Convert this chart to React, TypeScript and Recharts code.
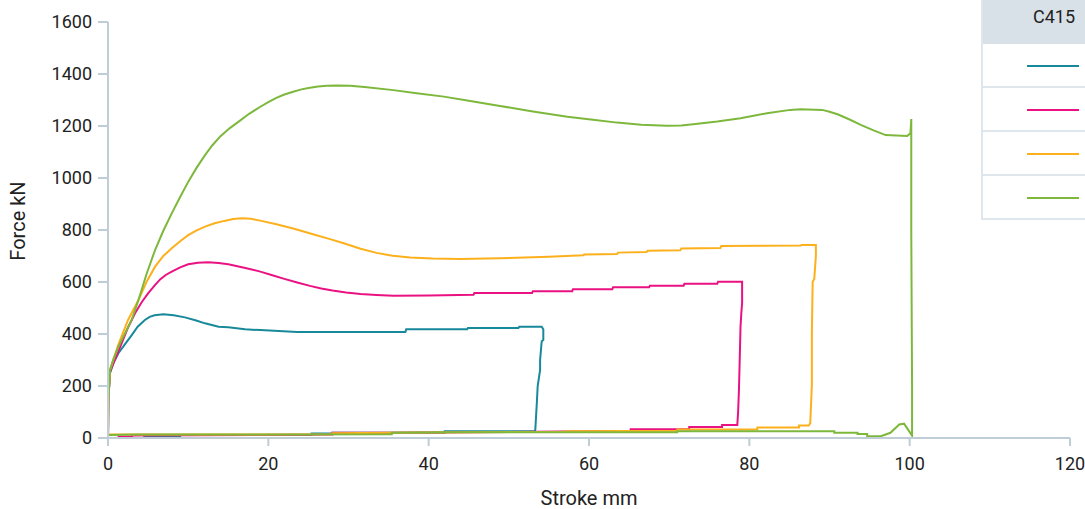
import { LineChart, Line, XAxis, YAxis } from "recharts";

// stroke (mm) vs force (kN)
const tealCurve: [number, number][] = [
  [0, 0], [0.05, 150], [0.25, 249], [0.7, 290], [1.3, 326], [2.1, 360], [2.96, 396], [3.7, 428],
  [4.6, 454], [5.2, 466], [5.8, 472], [6.9, 476], [8.2, 472], [9.6, 464], [11, 452], [12.1, 441],
  [13.8, 428], [15, 426], [17.1, 418], [19, 415], [23.6, 408], [37.1, 408], [37.2, 418],
  [44.8, 418], [44.9, 423], [51.2, 423], [51.3, 428], [54.1, 428], [54.3, 418], [54.3, 377],
  [54.1, 372], [53.9, 300], [53.9, 262], [53.6, 200], [53.5, 140], [53.3, 31], [53.2, 26],
  [42, 26], [42, 20], [28, 20], [28, 17], [25.4, 17], [25.4, 12], [9, 12], [9, 6], [4.4, 6],
];

const pinkCurve: [number, number][] = [
  [0, 0], [0.05, 150], [0.25, 255], [1.7, 364], [2.5, 425], [3.37, 480], [4.2, 522], [5, 556],
  [5.8, 586], [6.5, 610], [7.2, 627], [7.95, 640], [9, 656], [10, 668], [11.2, 674], [12.5, 676],
  [13.8, 673], [15, 668], [17, 655], [19, 640], [20.5, 626], [22, 612], [23.6, 598], [25.2, 585],
  [26.6, 575], [28, 567], [29.7, 560], [31.5, 554], [33.5, 550], [35.6, 547], [40, 548],
  [45.6, 551], [45.7, 558], [52.9, 558], [53, 564], [57.9, 564], [58, 572], [62.9, 572],
  [63, 580], [67.5, 580], [67.6, 586], [71.8, 586], [71.9, 593], [76, 593], [76.1, 601],
  [79.1, 601], [79.1, 520], [79, 480], [78.9, 428], [78.8, 300], [78.7, 180], [78.6, 100],
  [78.5, 50], [76.6, 50], [76.6, 42], [72.5, 42], [72.5, 34], [65.2, 34], [65.2, 27],
  [56.5, 25], [53.3, 24], [35.3, 20], [28, 20], [28, 13], [3, 10], [3, 6], [1.2, 6],
];

const orangeCurve: [number, number][] = [
  [0, 0], [0.05, 150], [0.25, 262], [1.3, 360], [2.5, 454], [3.8, 531], [4.8, 600], [5.87, 659],
  [6.9, 700], [7.95, 730], [9, 757], [10, 780], [11, 798], [12.1, 813], [13.3, 826], [14.5, 835],
  [15.6, 842], [16.7, 845], [17.8, 843], [19, 836], [21, 822], [23.1, 806], [24.5, 793],
  [26, 780], [27.7, 765], [29.4, 749], [31.5, 728], [33.5, 712], [35.5, 701], [37.7, 694],
  [40.5, 690], [43.9, 688], [48.9, 691], [55, 697], [59.3, 703], [59.4, 706], [63.5, 708],
  [63.6, 713], [67.2, 715], [67.3, 720], [71.4, 722], [71.5, 729], [76.4, 731], [76.5, 738],
  [86.4, 740], [86.5, 742], [88.3, 742], [88.3, 700], [88.1, 612], [87.9, 601], [87.8, 400],
  [87.8, 205], [87.6, 57], [87.4, 48], [86.2, 48], [86.2, 40], [81, 40], [81, 33], [71, 33],
  [71, 28], [57.7, 26], [56.5, 24], [35.3, 20], [28, 18], [28, 14], [3.7, 13], [0, 13],
];

const greenCurve: [number, number][] = [
  [0, 0], [0.04, 146], [0.25, 262], [0.7, 305], [1.3, 351], [2, 395], [2.95, 454], [3.8, 531],
  [4.8, 630], [5.87, 723], [6.9, 797], [7.95, 864], [9, 927], [10, 985], [11, 1037],
  [12.1, 1088], [13, 1125], [14, 1160], [15.2, 1192], [16.3, 1217], [17.6, 1247], [19, 1274],
  [20, 1292], [21, 1308], [22, 1321], [23.1, 1332], [24, 1340], [25, 1346], [26.2, 1352],
  [27.3, 1355], [28.7, 1356], [30.2, 1355], [32, 1350], [35.6, 1338], [38.5, 1326],
  [41.9, 1313], [45, 1297], [48.9, 1277], [53, 1256], [57.3, 1236], [60.5, 1224],
  [63.5, 1213], [66.5, 1205], [69.7, 1201], [71.5, 1202], [73, 1207], [76, 1217],
  [78.9, 1230], [82.2, 1249], [85.1, 1262], [86.4, 1264], [89.1, 1262], [90, 1255],
  [91, 1245], [92.5, 1225], [93.9, 1204], [95.5, 1183], [97, 1165], [99.7, 1162],
  [100.1, 1172], [100.2, 1227], [100.2, 800], [100.3, 200], [100.3, 9], [99.3, 55],
  [98.7, 52], [97.6, 20], [96.4, 7], [94.7, 7], [94.7, 15], [93.5, 15], [93.5, 20],
  [90.6, 20], [90.6, 26], [71, 26], [71, 22], [42, 22], [35.4, 20], [35.4, 14], [3.7, 13],
  [0, 12],
];

const xTicks = [0, 20, 40, 60, 80, 100, 120];
const yTicks = [0, 200, 400, 600, 800, 1000, 1200, 1400, 1600];
const legendTitle = "C415";

const series = [
  { key: "teal", curve: tealCurve, color: "#18899a" },
  { key: "pink", curve: pinkCurve, color: "#ea1282" },
  { key: "orange", curve: orangeCurve, color: "#fcb01c" },
  { key: "green", curve: greenCurve, color: "#7db83c" },
];

const toRows = (curve: [number, number][]) => curve.map(([x, y]) => ({ x, y }));

const W = 1085;
const H = 509;
const axisColor = "#bfcdd6";
const textColor = "#222";
const font = "Roboto, sans-serif";

export default function App() {
  return (
    <div style={{ position: "absolute", left: 0, top: 0, width: W, height: H, background: "#fff", fontFamily: font, overflow: "hidden" }}>
      <LineChart width={W} height={H} margin={{ top: 22, right: 15, bottom: 0, left: 0 }}>
        <XAxis
          type="number"
          dataKey="x"
          domain={[0, 120]}
          ticks={xTicks}
          height={71}
          stroke={axisColor}
          strokeWidth={2}
          tickSize={8}
          tickMargin={11}
          tick={{ fill: textColor, fontSize: 18, fontFamily: font }}
          label={{ value: "Stroke mm", position: "insideBottom", offset: 4, fill: textColor, fontSize: 20, fontFamily: font }}
        />
        <YAxis
          type="number"
          dataKey="y"
          domain={[0, 1600]}
          ticks={yTicks}
          width={108}
          stroke={axisColor}
          strokeWidth={2}
          tickSize={10}
          tickMargin={6}
          tick={{ fill: textColor, fontSize: 18, fontFamily: font }}
        />
        {series.map((s) => (
          <Line
            key={s.key}
            data={toRows(s.curve)}
            dataKey="y"
            type="linear"
            stroke={s.color}
            strokeWidth={2}
            dot={false}
            activeDot={false}
            isAnimationActive={false}
          />
        ))}
      </LineChart>

      {/* y axis title */}
      <div
        style={{
          position: "absolute", left: 18, top: 221, transform: "translate(-50%, -50%) rotate(-90deg)",
          fontSize: 20, color: textColor, whiteSpace: "nowrap",
        }}
      >
        Force kN
      </div>

      {/* legend table, cut off at the right edge like the original */}
      <div style={{ position: "absolute", left: 981, top: 0, width: 130, borderLeft: "2px solid #dfe6ec", borderBottom: "2px solid #dfe6ec" }}>
        <div style={{ height: 44, background: "#d9e1e8", fontSize: 18, color: textColor, paddingLeft: 50, paddingTop: 5, lineHeight: "24px", boxSizing: "border-box" }}>
          {legendTitle}
        </div>
        {series.map((s, i) => (
          <div key={s.key} style={{ height: 42, borderTop: i === 0 ? "none" : "2px solid #dfe6ec", position: "relative" }}>
            <div style={{ position: "absolute", left: 44, top: 21, width: 52, height: 2, background: s.color }} />
          </div>
        ))}
      </div>
    </div>
  );
}
